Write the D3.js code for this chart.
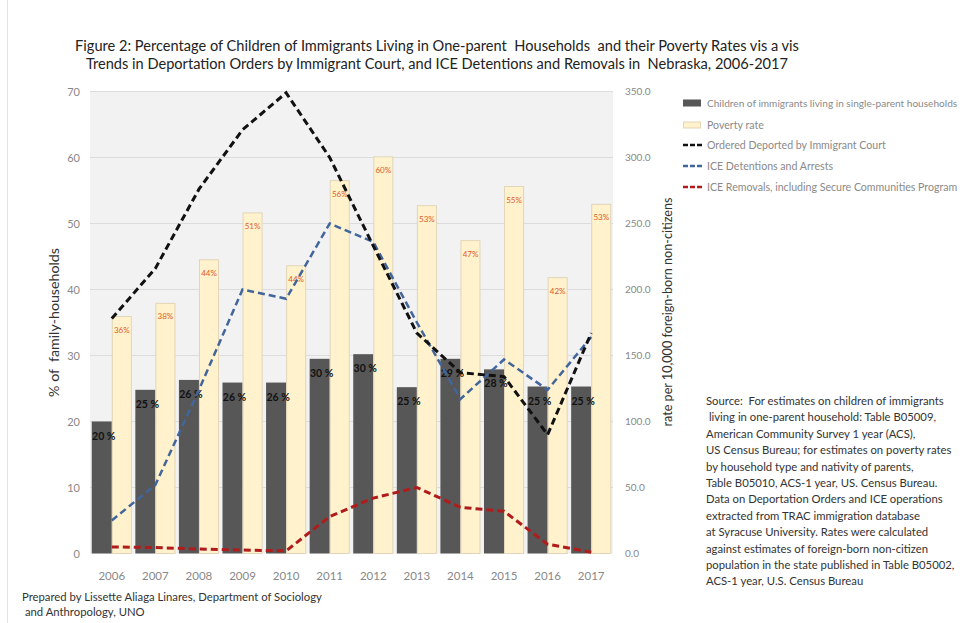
<!DOCTYPE html>
<html><head><meta charset="utf-8">
<script src="https://cdn.jsdelivr.net/npm/d3@7"></script>
<style>
body{margin:0;background:#fff;}
svg{display:block;font-family:Lato, "Open Sans", sans-serif;}
</style></head>
<body><svg id="c" width="966" height="623"></svg>
<script>
const years = ["2006","2007","2008","2009","2010","2011","2012","2013","2014","2015","2016","2017"];
const singleParent = [20,25,26,26,26,30,30,25,29,28,25,25];
const singleParentActual = [20.0,24.8,26.3,25.9,25.9,29.5,30.2,25.2,29.5,27.9,25.3,25.3];
const povertyRate = [36,38,44,51,44,56,60,53,47,55,42,53];
const povertyActual = [35.9,37.9,44.5,51.6,43.6,56.5,60.1,52.7,47.4,55.6,41.8,52.9];
const orderedDeported = [178,216,276,321,349,300,233,167,137,134,90,167];
const iceDetentions = [25,52,124,200,193,250,236,175,117,147,124,164];
const iceRemovals = [5,4.5,3.4,2.6,2,28,42,50,35,32,7,1];
const leftTicks = [0,10,20,30,40,50,60,70];
const rightTicks = [0,50,100,150,200,250,300,350];
const legendLabels = ["Children of immigrants living in single-parent households","Poverty rate","Ordered Deported by Immigrant Court","ICE Detentions and Arrests","ICE Removals, including Secure Communities Program"];
const titleLines = ["Figure 2: Percentage of Children of Immigrants Living in One-parent  Households  and their Poverty Rates vis a vis",
 "Trends in Deportation Orders by Immigrant Court, and ICE Detentions and Removals in  Nebraska, 2006-2017"];
const sourceLines = ["Source:  For estimates on children of immigrants",
 " living in one-parent household: Table B05009,",
 "American Community Survey 1 year (ACS),",
 "US Census Bureau; for estimates on poverty rates",
 "by household type and nativity of parents,",
 "Table B05010, ACS-1 year, US. Census Bureau.",
 "Data on Deportation Orders and ICE operations",
 "extracted from TRAC immigration database",
 "at Syracuse University. Rates were calculated",
 "against estimates of foreign-born non-citizen",
 "population in the state published in Table B05002,",
 "ACS-1 year, U.S. Census Bureau"];
const footerLines = ["Prepared by Lissette Aliaga Linares, Department of Sociology"," and Anthropology, UNO"];

const svg = d3.select("#c");
const M = {l:90, r:613, t:91.5, b:553.5};
const x = d3.scaleBand().domain(years).range([M.l, M.r]).paddingInner(0.08).paddingOuter(0.04);
const yL = d3.scaleLinear().domain([0,70]).range([M.b, M.t]);
const yR = d3.scaleLinear().domain([0,350]).range([M.b, M.t]);
const bw = x.bandwidth()/2;

svg.append("rect").attr("width",966).attr("height",623).attr("fill","#fff");
svg.append("line").attr("x1",7.5).attr("x2",7.5).attr("y1",0).attr("y2",623).attr("stroke","#e4e4e4");

// title
svg.append("g").selectAll("text").data(titleLines).join("text")
  .attr("x",437).attr("y",(d,i)=>51+i*18).attr("text-anchor","middle")
  .attr("font-size",14.6).attr("fill","#222").text(d=>d).attr("xml:space","preserve");

// plot bg
svg.append("rect").attr("x",M.l).attr("y",M.t).attr("width",M.r-M.l).attr("height",M.b-M.t).attr("fill","#f2f2f2");
// grid
svg.append("g").selectAll("line").data(leftTicks.slice(1)).join("line")
  .attr("x1",M.l).attr("x2",M.r).attr("y1",d=>yL(d)).attr("y2",d=>yL(d))
  .attr("stroke","#dcdcdc").attr("stroke-width",1);

// left axis
const la = svg.append("g").attr("transform",`translate(${M.l-4},0)`)
  .call(d3.axisLeft(yL).tickValues(leftTicks).tickSize(0).tickPadding(6).tickFormat(d3.format("d")));
la.select(".domain").remove();
la.selectAll("text").attr("font-size",11).attr("fill","#888").attr("font-family","Lato, sans-serif");
// right axis
const ra = svg.append("g").attr("transform",`translate(${M.r+8},0)`)
  .call(d3.axisRight(yR).tickValues(rightTicks).tickSize(0).tickPadding(4).tickFormat(d3.format(".1f")));
ra.select(".domain").remove();
ra.selectAll("text").attr("font-size",10).attr("fill","#888").attr("font-family","Lato, sans-serif");
// x axis
const xa = svg.append("g").attr("transform",`translate(0,${M.b+8})`)
  .call(d3.axisBottom(x).tickSize(0).tickPadding(10));
xa.select(".domain").remove();
xa.selectAll("text").attr("font-size",11.5).attr("fill","#888").attr("font-family","Lato, sans-serif");

// axis titles
svg.append("text").attr("transform",`translate(59,${(M.t+M.b)/2}) rotate(-90)`)
  .attr("text-anchor","middle").attr("font-size",14.2).attr("fill","#333").text("% of  family-households").attr("xml:space","preserve");
svg.append("text").attr("transform",`translate(672,${312}) rotate(-90)`)
  .attr("text-anchor","middle").attr("font-size",12.6).attr("fill","#333").text("rate per 10,000 foreign-born non-citizens");

// bars
const data = years.map((y,i)=>({y, sp:singleParentActual[i], spl:singleParent[i], pv:povertyActual[i], pvl:povertyRate[i]}));
svg.append("g").selectAll("rect").data(data).join("rect")
  .attr("x",d=>x(d.y)).attr("width",bw).attr("y",d=>yL(d.sp)).attr("height",d=>yL(0)-yL(d.sp))
  .attr("fill","#575757");
svg.append("g").selectAll("rect").data(data).join("rect")
  .attr("x",d=>x(d.y)+bw+0.5).attr("width",bw-1).attr("y",d=>yL(d.pv)).attr("height",d=>yL(0)-yL(d.pv))
  .attr("fill","#fff2cc").attr("stroke","#e2d5b8").attr("stroke-width",1);

// lines
function drawLine(vals,color,w,dash){
  const line = d3.line().x((d,i)=>x(years[i])+x.bandwidth()/2).y(d=>yR(d));
  svg.append("path").datum(vals).attr("d",line).attr("fill","none")
    .attr("stroke",color).attr("stroke-width",w).attr("stroke-dasharray",dash);
}

// labels for bars
svg.append("g").selectAll("text").data(data).join("text")
  .attr("x",d=>x(d.y)+bw/2+2).attr("y",d=>yL(d.sp)+18).attr("text-anchor","middle")
  .attr("font-size",10.5).attr("font-weight","bold").attr("fill","#111").text(d=>d.spl+" %");
svg.append("g").selectAll("text").data(data).join("text")
  .attr("x",d=>x(d.y)+bw*1.5).attr("y",d=>yL(d.pv)+16).attr("text-anchor","middle")
  .attr("font-size",8).attr("fill","#e05a2b").text(d=>d.pvl+"%");

drawLine(iceRemovals,"#b01c1c",3,"7,4");
drawLine(iceDetentions,"#42669c",2.5,"7,4");
drawLine(orderedDeported,"#111",3,"7,4");

// legend
const lg = svg.append("g").attr("transform","translate(683,0)");
const ly = [103,125,145,166,187];
lg.append("rect").attr("x",0).attr("y",ly[0]-3.5).attr("width",18).attr("height",7).attr("fill","#575757");
lg.append("rect").attr("x",0.5).attr("y",ly[1]-3).attr("width",17).attr("height",6).attr("fill","#fff2cc").attr("stroke","#e2d5b8");
[["#111",2.5],["#42669c",2.5],["#b01c1c",2.5]].forEach((c,i)=>{
  lg.append("line").attr("x1",0).attr("x2",19).attr("y1",ly[i+2]).attr("y2",ly[i+2])
    .attr("stroke",c[0]).attr("stroke-width",c[1]).attr("stroke-dasharray","5,2");
});
lg.selectAll("text").data(legendLabels).join("text")
  .attr("x",24).attr("y",(d,i)=>ly[i]+3.8).attr("font-size",(d,i)=>i===0?10.1:10.6).attr("fill","#8a8a8a").text(d=>d);

// source
svg.append("g").selectAll("text").data(sourceLines).join("text")
  .attr("x",706).attr("y",(d,i)=>405+i*16.4).attr("font-size",11.3).attr("fill","#333")
  .attr("xml:space","preserve").text(d=>d);
// footer
svg.append("g").selectAll("text").data(footerLines).join("text")
  .attr("x",22).attr("y",(d,i)=>601+i*15).attr("font-size",11.3).attr("fill","#333")
  .attr("xml:space","preserve").text(d=>d);
</script></body></html>
